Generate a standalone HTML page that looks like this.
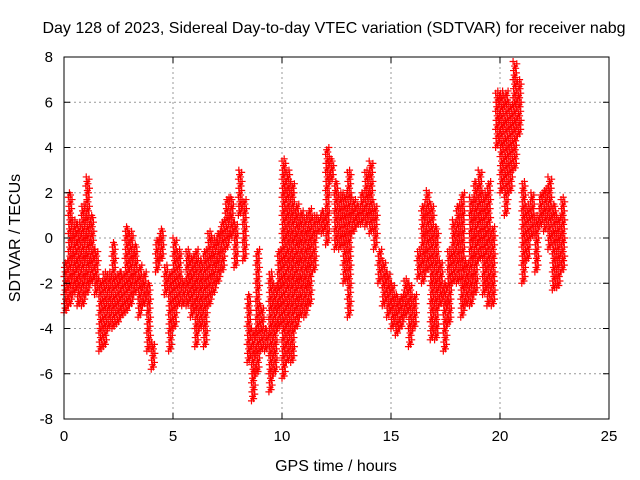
<!DOCTYPE html>
<html><head><meta charset="utf-8"><style>
body{margin:0;background:#fff;}
svg{display:block;font-family:"Liberation Sans",sans-serif;}
</style></head><body>
<svg id="chart" width="640" height="480">
<text x="334" y="33" font-size="16" text-anchor="middle" fill="#000">Day 128 of 2023, Sidereal Day-to-day VTEC variation (SDTVAR) for receiver nabg</text>
<text x="336" y="471" font-size="16" text-anchor="middle" fill="#000">GPS time / hours</text>
<text x="0" y="0" font-size="16" text-anchor="middle" fill="#000" transform="translate(20,238) rotate(-90)">SDTVAR / TECUs</text>
<g id="grid"></g><g id="marks"></g><g id="axes"></g>
</svg>
<script>
const times=[0,0.2,0.4,0.6,0.8,1.0,1.2,1.4,1.6,1.8,2.0,2.2,2.4,2.6,2.8,3.0,3.2,3.4,3.6,3.8,4.0,4.2,4.4,4.6,4.8,5.0,5.2,5.4,5.6,5.8,6.0,6.2,6.4,6.6,6.8,7.0,7.2,7.4,7.6,7.8,8.0,8.2,8.4,8.6,8.8,9.0,9.2,9.4,9.6,9.8,10.0,10.2,10.4,10.6,10.8,11.0,11.2,11.4,11.6,11.8,12.0,12.2,12.4,12.6,12.8,13.0,13.2,13.4,13.6,13.8,14.0,14.2,14.4,14.6,14.8,15.0,15.2,15.4,15.6,15.8,16.0,16.2,16.4,16.6,16.8,17.0,17.2,17.4,17.6,17.8,18.0,18.2,18.4,18.6,18.8,19.0,19.2,19.4,19.6,19.8,20.0,20.2,20.4,20.6,20.8,21.0,21.2,21.4,21.6,21.8,22.0,22.2,22.4,22.6,22.8];
const lows=[-3.3,-3,-2.5,-3,-3,-2.5,-2,-2.5,-5,-4.8,-4,-4,-3.8,-3.5,-3.3,-3,-2.5,-3.5,-3,-5,-5.8,-1.5,-1,-2.5,-5,-4,-3,-3,-3,-3.5,-4.8,-4,-4.8,-3,-2.5,-2,-1.5,-0.5,0,-1.3,1,-1,-5.5,-7.2,-6,-5,-5,-6.8,-6,-4,-6.2,-5.5,-5.5,-4,-3.5,-3.5,-3,-1.5,0.2,0.2,-0.3,2.5,-0.5,-0.5,-2,-3.5,0.2,0.5,0.6,0.5,0.2,-0.5,-2,-3,-3.5,-4,-4.3,-4,-3.5,-4.8,-4,-1.8,-2,-1.5,-4.5,-4.5,-3,-5,-3.8,-2,-2,-3.5,-3,-3,-2.5,-1,-2.5,-3,-3,4,2,1,2,3,4.5,-2,-1,0,-1.5,0.5,0.3,-0.5,-2.3,-2.2,-1.5];
const highs=[-1,2,0.8,0.7,1.5,2.7,1,-0.5,-1.8,-1.5,-1.5,-0.2,-1.5,-1.5,0.5,0.3,-0.3,-1.2,-1.5,-2,-4.6,0,0.4,-1.2,-1.5,0,-0.5,-1.8,-0.5,-0.8,-0.5,-1,-0.5,0.3,0,0.3,0.8,1.8,1.8,0.7,3,1.7,-2.5,-4,-0.5,-3,-4,-1.5,-2,-0.5,3.5,3,2.5,1.5,1.2,1,1.3,1,1,1.2,4,3.5,2.5,2,2,3,1.8,1.5,2,3,3.4,1.5,-0.5,-1,-1.5,-2,-2.5,-2.5,-1.8,-2,-2.5,-0.5,1.5,2.1,1.5,0.5,-1,-2,-0.5,0.8,1.5,2,-1,1.8,2.5,3,2,2.5,0.5,6.5,6.5,6.5,6,7.8,7,2.5,1.5,2,1,2,2.2,2.7,1.5,1,1.8];
const xTicks=[0,5,10,15,20,25];
const yTicks=[-8,-6,-4,-2,0,2,4,6,8];
const L=64,R=609,T=57,B=419;
const xs=t=>L+(t-0)/25*(R-L);
const ys=v=>B-(v+8)/16*(B-T);
const NS='http://www.w3.org/2000/svg';
const grid=document.getElementById('grid'),marks=document.getElementById('marks'),axes=document.getElementById('axes');
function mk(tag,attrs,parent){const e=document.createElementNS(NS,tag);for(const k in attrs)e.setAttribute(k,attrs[k]);parent.appendChild(e);return e;}
xTicks.forEach(t=>{const x=xs(t);
 if(t>0&&t<25){const g=mk('line',{x1:x,x2:x,y1:T,y2:B,stroke:'#999','stroke-dasharray':'2,3','stroke-width':1},grid);
 
 }
 mk('line',{x1:x,x2:x,y1:B,y2:B-6,stroke:'#000'},axes);
 mk('line',{x1:x,x2:x,y1:T,y2:T+6,stroke:'#000'},axes);
 const tx=mk('text',{x:x,y:B+22,'font-size':15,'text-anchor':'middle'},axes);tx.textContent=t;
 
 
});
yTicks.forEach(v=>{const y=ys(v);
 if(v>-8&&v<8){const g=mk('line',{x1:L,x2:R,y1:y,y2:y,stroke:'#999','stroke-dasharray':'2,3','stroke-width':1},grid);
 
 }
 mk('line',{x1:L,x2:L+6,y1:y,y2:y,stroke:'#000'},axes);
 mk('line',{x1:R,x2:R-6,y1:y,y2:y,stroke:'#000'},axes);
 const tx=mk('text',{x:L-11,y:y+5,'font-size':15,'text-anchor':'end'},axes);tx.textContent=v;
 
 
});
const fr=mk('rect',{x:L,y:T,width:R-L,height:B-T,fill:'none',stroke:'#000','stroke-width':1},axes);


times.forEach((t,i)=>{
 let d='';const lo=lows[i],hi=highs[i];
 const n=Math.max(2,Math.round((hi-lo)/0.1));
 const subs=[0,0.1,0.05,0.15,0.02,0.12,0.07,0.17];
 for(let k=0;k<=n;k++){
  const v=lo+(hi-lo)*k/n;
  const sub=subs[k%subs.length];
  const x=xs(t+sub),y=ys(v);
  d+=`M${x-3.5},${y}h7M${x},${y-3.5}v7`;
 }
 const p=mk('path',{d:d,stroke:'#f00','stroke-width':1.2,fill:'none'},marks);
 
 
});
</script>
</body></html>
